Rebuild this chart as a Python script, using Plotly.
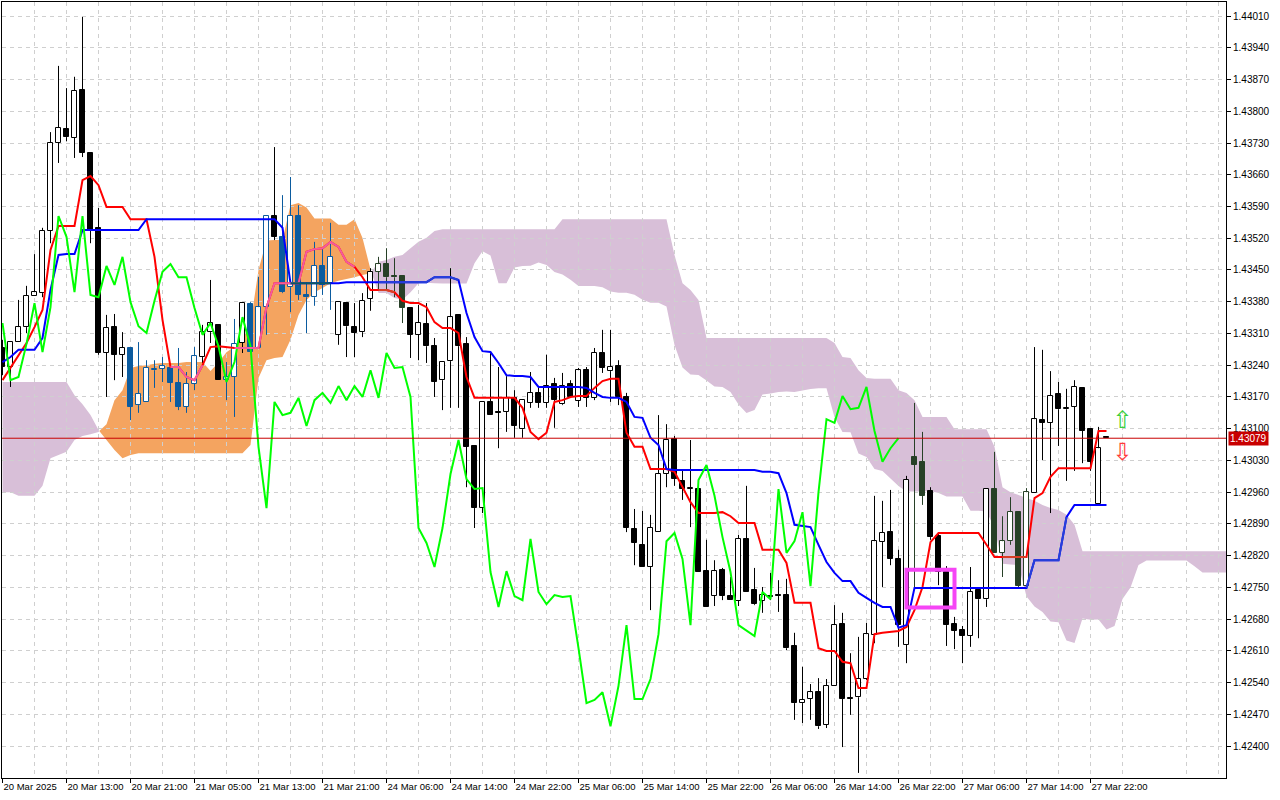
import plotly.graph_objects as go

# H1 candles, 20-27 Mar 2025 (bar index 0..138), Ichimoku 9/26/52
bar_open = [
    1.43278, 1.43236, 1.43291, 1.43324, 1.43393, 1.43399, 1.43536, 1.43730, 1.43761, 1.43741,
    1.43847, 1.43708, 1.43543, 1.43267, 1.43324, 1.43263, 1.43278, 1.43152, 1.43159, 1.43229,
    1.43232, 1.43234, 1.43201, 1.43148, 1.43199, 1.43258, 1.43313, 1.43329, 1.43207, 1.43214,
    1.43289, 1.43375, 1.43278, 1.43368, 1.43569, 1.43523, 1.43412, 1.43569, 1.43395, 1.43390,
    1.43459, 1.43421, 1.43307, 1.43377, 1.43324, 1.43313, 1.43386, 1.43446, 1.43463, 1.43437,
    1.43437, 1.43366, 1.43307, 1.43331, 1.43282, 1.43207, 1.43249, 1.43351, 1.43287, 1.43062,
    1.42925, 1.43159, 1.43137, 1.43137, 1.43168, 1.43099, 1.43157, 1.43179, 1.43157, 1.43199,
    1.43154, 1.43199, 1.43161, 1.43229, 1.43168, 1.43267, 1.43227, 1.43238, 1.43170, 1.42879,
    1.42844, 1.42795, 1.42872, 1.43000, 1.43077, 1.42985, 1.42967, 1.42967, 1.42786, 1.42731,
    1.42788, 1.42731, 1.42720, 1.42857, 1.42744, 1.42720, 1.42731, 1.42733, 1.42733, 1.42621,
    1.42495, 1.42504, 1.42519, 1.42447, 1.42533, 1.42669, 1.42506, 1.42508, 1.42548, 1.42645,
    1.42850, 1.42872, 1.42813, 1.42623, 1.43038, 1.43027, 1.42963, 1.42863, 1.42784, 1.42669,
    1.42656, 1.42643, 1.42744, 1.42724, 1.42967, 1.42826, 1.42852, 1.42916, 1.42753, 1.42958,
    1.43119, 1.43113, 1.43177, 1.43143, 1.43148, 1.43190, 1.43099, 1.42934, 1.43079,
]
bar_high = [
    1.43296, 1.43291, 1.43384, 1.43415, 1.43485, 1.43543, 1.43754, 1.43900, 1.43851, 1.43876,
    1.44008, 1.43708, 1.43587, 1.43351, 1.43353, 1.43313, 1.43278, 1.43291, 1.43251, 1.43251,
    1.43258, 1.43234, 1.43278, 1.43225, 1.43280, 1.43329, 1.43428, 1.43329, 1.43247, 1.43342,
    1.43377, 1.43379, 1.43435, 1.43569, 1.43721, 1.43615, 1.43655, 1.43593, 1.43423, 1.43512,
    1.43498, 1.43554, 1.43379, 1.43377, 1.43377, 1.43399, 1.43454, 1.43479, 1.43498, 1.43476,
    1.43437, 1.43368, 1.43373, 1.43377, 1.43300, 1.43247, 1.43454, 1.43351, 1.43302, 1.43062,
    1.43159, 1.43269, 1.43236, 1.43216, 1.43185, 1.43163, 1.43225, 1.43190, 1.43263, 1.43212,
    1.43223, 1.43207, 1.43234, 1.43236, 1.43278, 1.43318, 1.43318, 1.43251, 1.43179, 1.42923,
    1.42919, 1.42910, 1.43130, 1.43110, 1.43084, 1.43009, 1.43075, 1.42967, 1.42855, 1.42810,
    1.42793, 1.42773, 1.42866, 1.42974, 1.42793, 1.42751, 1.42782, 1.42766, 1.42769, 1.42650,
    1.42575, 1.42537, 1.42550, 1.42548, 1.42711, 1.42694, 1.42605, 1.42641, 1.42672, 1.42952,
    1.42941, 1.42965, 1.42833, 1.42996, 1.43157, 1.43093, 1.42971, 1.42870, 1.42797, 1.42685,
    1.42665, 1.42795, 1.42747, 1.42967, 1.43049, 1.42907, 1.42949, 1.42916, 1.42969, 1.43280,
    1.43274, 1.43227, 1.43203, 1.43188, 1.43207, 1.43190, 1.43099, 1.43104, 1.43079,
]
bar_low = [
    1.43218, 1.43192, 1.43291, 1.43311, 1.43393, 1.43390, 1.43509, 1.43686, 1.43734, 1.43697,
    1.43699, 1.43509, 1.43263, 1.43170, 1.43207, 1.43214, 1.43119, 1.43135, 1.43159, 1.43190,
    1.43203, 1.43159, 1.43141, 1.43135, 1.43185, 1.43245, 1.43289, 1.43207, 1.43163, 1.43126,
    1.43267, 1.43269, 1.43278, 1.43307, 1.43516, 1.43399, 1.43357, 1.43384, 1.43311, 1.43371,
    1.43395, 1.43362, 1.43285, 1.43258, 1.43258, 1.43302, 1.43360, 1.43406, 1.43406, 1.43390,
    1.43333, 1.43256, 1.43251, 1.43245, 1.43170, 1.43141, 1.43146, 1.43146, 1.42971, 1.42881,
    1.42914, 1.43130, 1.43057, 1.43093, 1.43080, 1.43080, 1.43146, 1.43146, 1.43146, 1.43102,
    1.43152, 1.43168, 1.43148, 1.43148, 1.43163, 1.43223, 1.43159, 1.43152, 1.42872, 1.42799,
    1.42795, 1.42700, 1.42872, 1.42971, 1.42974, 1.42943, 1.42883, 1.42784, 1.42707, 1.42709,
    1.42722, 1.42722, 1.42709, 1.42740, 1.42711, 1.42694, 1.42722, 1.42696, 1.42612, 1.42458,
    1.42451, 1.42458, 1.42438, 1.42440, 1.42533, 1.42398, 1.42469, 1.42341, 1.42546, 1.42627,
    1.42751, 1.42799, 1.42619, 1.42583, 1.42744, 1.42932, 1.42855, 1.42755, 1.42621, 1.42614,
    1.42583, 1.42619, 1.42638, 1.42707, 1.42826, 1.42773, 1.42844, 1.42751, 1.42751, 1.42958,
    1.43031, 1.42914, 1.43062, 1.42985, 1.43007, 1.43024, 1.43007, 1.42930, 1.43079,
]
bar_close = [
    1.43236, 1.43291, 1.43324, 1.43393, 1.43401, 1.43536, 1.43730, 1.43763, 1.43743, 1.43845,
    1.43708, 1.43538, 1.43267, 1.43322, 1.43263, 1.43278, 1.43148, 1.43177, 1.43234, 1.43232,
    1.43238, 1.43201, 1.43148, 1.43199, 1.43260, 1.43313, 1.43333, 1.43207, 1.43214, 1.43287,
    1.43377, 1.43269, 1.43368, 1.43569, 1.43523, 1.43401, 1.43569, 1.43395, 1.43390, 1.43459,
    1.43417, 1.43479, 1.43379, 1.43326, 1.43311, 1.43382, 1.43446, 1.43463, 1.43434, 1.43434,
    1.43366, 1.43307, 1.43333, 1.43282, 1.43203, 1.43247, 1.43346, 1.43282, 1.43060, 1.42925,
    1.43159, 1.43130, 1.43135, 1.43168, 1.43106, 1.43163, 1.43179, 1.43157, 1.43194, 1.43163,
    1.43194, 1.43170, 1.43229, 1.43168, 1.43267, 1.43234, 1.43236, 1.43170, 1.42881, 1.42848,
    1.42795, 1.42881, 1.43000, 1.43075, 1.42989, 1.42967, 1.42969, 1.42784, 1.42707, 1.42786,
    1.42731, 1.42722, 1.42857, 1.42740, 1.42713, 1.42733, 1.42729, 1.42731, 1.42616, 1.42495,
    1.42502, 1.42519, 1.42444, 1.42533, 1.42667, 1.42504, 1.42504, 1.42548, 1.42647, 1.42852,
    1.42870, 1.42813, 1.42667, 1.42987, 1.43020, 1.42952, 1.42861, 1.42784, 1.42667, 1.42654,
    1.42643, 1.42740, 1.42724, 1.42967, 1.42826, 1.42852, 1.42916, 1.42753, 1.42960, 1.43121,
    1.43113, 1.43172, 1.43143, 1.43146, 1.43192, 1.43095, 1.43027, 1.43057, 1.43079,
]

tenkan = [
    1.43207, 1.43234, 1.43263, 1.43289, 1.43324, 1.43362, 1.43494, 1.43547, 1.43547, 1.43547,
    1.43648, 1.43657, 1.43637, 1.43589, 1.43589, 1.43589, 1.43562, 1.43562, 1.43562, 1.43479,
    1.43340, 1.43236, 1.43236, 1.43214, 1.43207, 1.43240, 1.43280, 1.43282, 1.43280, 1.43278,
    1.43278, 1.43278, 1.43278, 1.43368, 1.43421, 1.43421, 1.43421, 1.43421, 1.43490, 1.43496,
    1.43498, 1.43512, 1.43501, 1.43468, 1.43457, 1.43434, 1.43406, 1.43406, 1.43406, 1.43401,
    1.43382, 1.43377, 1.43377, 1.43368, 1.43335, 1.43322, 1.43322, 1.43311, 1.43214, 1.43168,
    1.43168, 1.43168, 1.43168, 1.43168, 1.43168, 1.43146, 1.43093, 1.43077, 1.43091, 1.43159,
    1.43163, 1.43170, 1.43172, 1.43172, 1.43190, 1.43205, 1.43210, 1.43210, 1.43091, 1.43060,
    1.43060, 1.43011, 1.43011, 1.43011, 1.43005, 1.42971, 1.42938, 1.42914, 1.42914, 1.42914,
    1.42916, 1.42907, 1.42892, 1.42892, 1.42892, 1.42833, 1.42833, 1.42833, 1.42804, 1.42716,
    1.42716, 1.42716, 1.42616, 1.42610, 1.42610, 1.42586, 1.42583, 1.42528, 1.42528, 1.42647,
    1.42650, 1.42652, 1.42654, 1.42663, 1.42700, 1.42751, 1.42850, 1.42870, 1.42870, 1.42870,
    1.42870, 1.42870, 1.42870, 1.42844, 1.42817, 1.42817, 1.42817, 1.42817, 1.42817, 1.42947,
    1.42958, 1.42994, 1.43013, 1.43013, 1.43013, 1.43013, 1.43013, 1.43095, 1.43095,
]
kijun = [
    1.43247, 1.43258, 1.43274, 1.43274, 1.43274, 1.43300, 1.43406, 1.43483, 1.43485, 1.43485,
    1.43538, 1.43538, 1.43538, 1.43538, 1.43538, 1.43538, 1.43538, 1.43538, 1.43562, 1.43562,
    1.43562, 1.43562, 1.43562, 1.43562, 1.43562, 1.43562, 1.43562, 1.43562, 1.43562, 1.43562,
    1.43562, 1.43562, 1.43562, 1.43562, 1.43562, 1.43543, 1.43421, 1.43421, 1.43421, 1.43421,
    1.43421, 1.43421, 1.43421, 1.43423, 1.43423, 1.43423, 1.43423, 1.43423, 1.43423, 1.43423,
    1.43423, 1.43423, 1.43423, 1.43423, 1.43434, 1.43434, 1.43434, 1.43428, 1.43355, 1.43302,
    1.43271, 1.43269, 1.43245, 1.43218, 1.43216, 1.43216, 1.43214, 1.43192, 1.43192, 1.43192,
    1.43192, 1.43192, 1.43192, 1.43190, 1.43179, 1.43170, 1.43168, 1.43168, 1.43159, 1.43126,
    1.43124, 1.43080, 1.43064, 1.43011, 1.43009, 1.43009, 1.43009, 1.43009, 1.43009, 1.43009,
    1.43009, 1.43009, 1.43009, 1.43009, 1.43009, 1.43005, 1.43005, 1.43002, 1.42958, 1.42888,
    1.42885, 1.42883, 1.42844, 1.42806, 1.42782, 1.42764, 1.42764, 1.42738, 1.42727, 1.42716,
    1.42707, 1.42707, 1.42661, 1.42667, 1.42749, 1.42749, 1.42749, 1.42749, 1.42749, 1.42749,
    1.42749, 1.42749, 1.42749, 1.42749, 1.42749, 1.42749, 1.42749, 1.42749, 1.42749, 1.42810,
    1.42810, 1.42810, 1.42810, 1.42905, 1.42932, 1.42932, 1.42932, 1.42932, 1.42932,
]
# Senkou Span A for the first 26 bars (its source bars lie left of the window)
span_a_lead = [
    1.42960, 1.42960, 1.42952, 1.42952, 1.42952, 1.42974, 1.43035, 1.43042, 1.43049, 1.43075,
    1.43084, 1.43088, 1.43093, 1.43110, 1.43163, 1.43185, 1.43234, 1.43238, 1.43240, 1.43243,
    1.43245, 1.43245, 1.43245, 1.43247, 1.43247, 1.43247,
]
# Senkou Span B, bars 0..153 (cloud runs 26 bars past the last candle)
span_b = [
    1.43203, 1.43203, 1.43203, 1.43203, 1.43203, 1.43203, 1.43203, 1.43203, 1.43203, 1.43174,
    1.43154, 1.43130, 1.43097, 1.43075, 1.43053, 1.43035, 1.43042, 1.43046, 1.43046, 1.43046,
    1.43046, 1.43046, 1.43046, 1.43046, 1.43046, 1.43046, 1.43046, 1.43046, 1.43046, 1.43046,
    1.43046, 1.43064, 1.43212, 1.43251, 1.43256, 1.43258, 1.43296, 1.43351, 1.43384, 1.43401,
    1.43410, 1.43421, 1.43426, 1.43430, 1.43434, 1.43439, 1.43443, 1.43468, 1.43472, 1.43479,
    1.43483, 1.43498, 1.43512, 1.43521, 1.43536, 1.43540, 1.43540, 1.43540, 1.43540, 1.43540,
    1.43540, 1.43540, 1.43540, 1.43540, 1.43540, 1.43540, 1.43540, 1.43540, 1.43540, 1.43540,
    1.43562, 1.43562, 1.43562, 1.43562, 1.43562, 1.43562, 1.43562, 1.43562, 1.43562, 1.43562,
    1.43562, 1.43562, 1.43562, 1.43562, 1.43483, 1.43421, 1.43406, 1.43384, 1.43300, 1.43300,
    1.43300, 1.43300, 1.43300, 1.43300, 1.43300, 1.43300, 1.43300, 1.43300, 1.43300, 1.43300,
    1.43300, 1.43300, 1.43300, 1.43300, 1.43289, 1.43258, 1.43256, 1.43229, 1.43212, 1.43210,
    1.43210, 1.43210, 1.43185, 1.43179, 1.43163, 1.43126, 1.43126, 1.43126, 1.43126, 1.43099,
    1.43099, 1.43099, 1.43099, 1.43099, 1.43060, 1.42971, 1.42960, 1.42954, 1.42947, 1.42941,
    1.42932, 1.42925, 1.42921, 1.42910, 1.42888, 1.42830, 1.42830, 1.42830, 1.42830, 1.42830,
    1.42830, 1.42830, 1.42830, 1.42830, 1.42830, 1.42830, 1.42830, 1.42830, 1.42830, 1.42830,
    1.42830, 1.42830, 1.42830, 1.42830,
]

tick_bars = [0, 8, 16, 24, 32, 40, 48, 56, 64, 72, 80, 88, 96, 104, 112, 120, 128, 136]
tick_text = [
    "20 Mar 2025", "20 Mar 13:00", "20 Mar 21:00", "21 Mar 05:00", "21 Mar 13:00",
    "21 Mar 21:00", "24 Mar 06:00", "24 Mar 14:00", "24 Mar 22:00", "25 Mar 06:00",
    "25 Mar 14:00", "25 Mar 22:00", "26 Mar 06:00", "26 Mar 14:00", "26 Mar 22:00",
    "27 Mar 06:00", "27 Mar 14:00", "27 Mar 22:00",
]
grid_bars = [4, 12, 20, 28, 36, 44, 52, 60, 68, 76, 84, 92, 100, 108, 116, 124, 132, 140, 148, 152]
price_ticks = [
    1.42400, 1.42470, 1.42540, 1.42610, 1.42680, 1.42750, 1.42820, 1.42890,
    1.42960, 1.43030, 1.43100, 1.43170, 1.43240, 1.43310, 1.43380, 1.43450,
    1.43520, 1.43590, 1.43660, 1.43730, 1.43800, 1.43870, 1.43940, 1.44010,
]
bid_price = 1.43079
signal_bars = [140, 140]
signal_prices = [1.43115, 1.43044]
signal_marks = ["⇧", "⇩"]
signal_colors = ["#3CCF3C", "#FF3B3B"]
box_bars = [113.0, 119.0]
box_prices = [1.42706, 1.42789]

SHIFT = 26
bars = list(range(len(bar_close)))
# Senkou A = (Tenkan + Kijun) / 2 pushed 26 bars ahead, Chikou = close pushed 26 back
span_a = (span_a_lead + [(t + k) / 2 for t, k in zip(tenkan, kijun)])[:len(span_b)]
chikou = bar_close[SHIFT:]

SANDY = "#F4A460"
THISTLE = "#D8BFD8"


def zone(i, v):
    lo, hi = min(span_a[i], span_b[i]), max(span_a[i], span_b[i])
    if lo <= v <= hi:
        return "bull" if span_a[i] >= span_b[i] else "bear"
    return None


def cloud_runs(a, b):
    runs = []
    xs, top, bot = [], [], []
    bull = a[0] >= b[0]
    for i in range(len(b)):
        now = a[i] >= b[i]
        if now != bull:
            d0 = a[i - 1] - b[i - 1]
            d1 = a[i] - b[i]
            t = d0 / (d0 - d1)
            xc = i - 1 + t
            yc = a[i - 1] + t * (a[i] - a[i - 1])
            xs.append(xc); top.append(yc); bot.append(yc)
            runs.append((bull, xs, top, bot))
            xs, top, bot = [xc], [yc], [yc]
            bull = now
        xs.append(i)
        top.append(max(a[i], b[i]))
        bot.append(min(a[i], b[i]))
    runs.append((bull, xs, top, bot))
    return runs


shapes = []
for bull, xs, top, bot in cloud_runs(span_a, span_b):
    px = xs + xs[::-1]
    py = top + bot[::-1]
    path = "M " + " L ".join(f"{x},{y}" for x, y in zip(px, py)) + " Z"
    shapes.append(dict(type="path", path=path, xref="x", yref="y", layer="below",
                       fillcolor=SANDY if bull else THISTLE, line=dict(width=0)))

shapes.append(dict(type="line", xref="paper", x0=0, x1=1, yref="y", y0=bid_price, y1=bid_price,
                   line=dict(color="#C80000", width=1), layer="above"))
shapes.append(dict(type="rect", xref="x", yref="y", x0=box_bars[0], x1=box_bars[1],
                   y0=box_prices[0], y1=box_prices[1], line=dict(color="#F545F5", width=4),
                   layer="above"))

# candle colours: inside the cloud MT5 inverts the black ink
ink_for = {None: "#000000", "bull": "#0B5B9F", "bear": "#274027"}
body_base, body_h, body_fill, body_line = [], [], [], []
wicks = {}
for i in bars:
    o, h, l, c = bar_open[i], bar_high[i], bar_low[i], bar_close[i]
    top, bot = max(o, c), min(o, c)
    ink = ink_for[zone(i, (o + c) / 2)]
    body_base.append(bot)
    body_h.append(max(top - bot, 0.00002))
    body_fill.append("#FFFFFF" if c > o else ink)
    body_line.append(ink)
    wx, wy = wicks.setdefault(ink, ([], []))
    if h > top:
        wx += [i, i, None]; wy += [h, top, None]
    if l < bot:
        wx += [i, i, None]; wy += [bot, l, None]

fig = go.Figure()
fig.add_trace(go.Bar(x=bars, y=body_h, base=body_base, width=0.62,
                     marker=dict(color=body_fill, line=dict(color=body_line, width=1)),
                     hoverinfo="skip"))
for ink, (wx, wy) in wicks.items():
    fig.add_trace(go.Scatter(x=wx, y=wy, mode="lines", line=dict(color=ink, width=1),
                             hoverinfo="skip"))

fig.add_trace(go.Scatter(x=bars, y=tenkan, mode="lines", line=dict(color="#FF0000", width=2)))
fig.add_trace(go.Scatter(x=bars, y=kijun, mode="lines", line=dict(color="#0000FF", width=2)))
fig.add_trace(go.Scatter(x=bars[:len(chikou)], y=chikou, mode="lines",
                         line=dict(color="#00FF00", width=2)))

# line pieces that run through the cloud get the inverted colour too
overlays = [(tenkan, {"bull": "#F45B9F", "bear": "#D84027"}),
            (kijun, {"bull": "#0B5B60", "bear": "#2740D8"})]
for series, cols in overlays:
    for kind, col in cols.items():
        ys = [v if zone(i, v) == kind else None for i, v in zip(bars, series)]
        fig.add_trace(go.Scatter(x=bars, y=ys, mode="lines", connectgaps=False,
                                 line=dict(color=col, width=2), hoverinfo="skip"))

fig.add_trace(go.Scatter(x=signal_bars, y=signal_prices, mode="text", text=signal_marks,
                         textfont=dict(family="DejaVu Sans", size=24, color=signal_colors),
                         textposition="middle center", hoverinfo="skip"))

grid = dict(gridcolor="#CFCFCF", griddash="4px,4px", gridwidth=1)
fig.update_layout(
    width=1280, height=800,
    margin=dict(l=2, r=54, t=2, b=22),
    paper_bgcolor="white", plot_bgcolor="white",
    showlegend=False, barmode="overlay", bargap=0,
    font=dict(family="Liberation Sans", size=10, color="black"),
    shapes=shapes,
    xaxis=dict(range=[-0.0625, 152.9375], tickmode="array", tickvals=tick_bars,
               ticktext=tick_text, ticks="outside", ticklen=4, tickcolor="black",
               ticklabelposition="outside right", tickangle=0, tickfont=dict(size=9.5),
               showline=True, mirror=True, linecolor="black", linewidth=1,
               showgrid=True, zeroline=False, **grid,
               minor=dict(tickmode="array", tickvals=grid_bars, showgrid=True, ticks="", **grid)),
    yaxis=dict(range=[1.423298, 1.440409], side="right", tickmode="array",
               tickvals=price_ticks, tickformat=".5f", ticks="outside", ticklen=4,
               tickcolor="black", tickfont=dict(size=10), showline=True, mirror=True,
               linecolor="black", linewidth=1, showgrid=True, zeroline=False, **grid),
    annotations=[dict(xref="paper", x=1, xanchor="left", xshift=2, yref="y", y=bid_price,
                      yanchor="middle", text=f"{bid_price:.5f}", showarrow=False,
                      bgcolor="#C80000", font=dict(color="white", size=10), borderpad=1)],
)

fig.write_html("out.html", config={"displayModeBar": False},
               post_script="document.body.style.margin='0';document.body.style.overflow='hidden';")
